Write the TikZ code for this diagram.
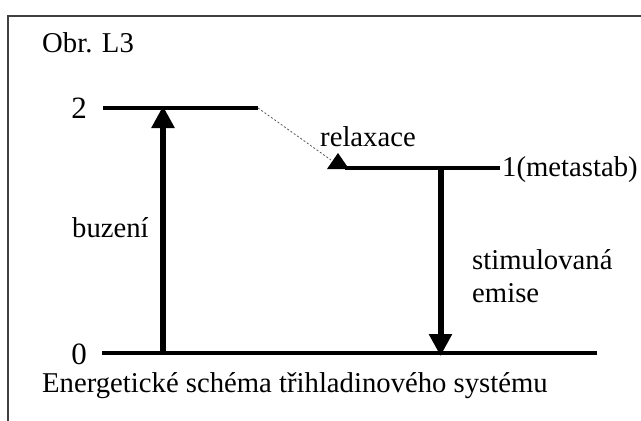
\documentclass[tikz,border=0pt]{standalone}
\usepackage{fontspec}
\setmainfont{Liberation Serif}
\usetikzlibrary{arrows.meta}
\begin{document}
\begin{tikzpicture}[x=1pt,y=-1pt,
  lbl/.style={inner sep=0pt,font=\fontsize{28.7}{34}\selectfont},
  num/.style={inner sep=0pt,font=\fontsize{31}{36}\selectfont},
  level/.style={line width=3.5pt},
  trans/.style={line width=6pt,-{Triangle[width=22pt,length=22pt]}},
  relax/.style={line width=0.8pt,gray!70!black,dash pattern=on 2pt off 2pt}]
\useasboundingbox (0,0) rectangle (641,421);
\fill[white] (0,0) rectangle (641,421);
% frame
\draw[line width=1.5pt,black!75] (8,430) -- (8,16) -- (650,16);
% texts
\node[lbl,anchor=base west] (obr) at (42,52) {Obr. L3};
\node[num,anchor=east] (n2) at (87,108.5) {2};
\node[num,anchor=east] (n0) at (87,354) {0};
\node[lbl,anchor=west] (n1) at (502,170) {1(metastab)};
\node[lbl] (relax) at (368,137) {relaxace};
\node[lbl,anchor=base west] (buz) at (72,237) {buzení};
\node[lbl,anchor=base west] (stim) at (472,269) {stimulovaná};
\node[lbl,anchor=base west] (emise) at (472,302) {emise};
\node[lbl,anchor=base west] (cap) at (42,392) {Energetické schéma třihladinového systému};
% levels
\coordinate (l2a) at (103,108);
\coordinate (l2b) at (258,108);
\coordinate (l1a) at (345,168);
\coordinate (l1b) at (500,168);
\coordinate (l0a) at (102,353);
\coordinate (l0b) at (597,353);
\draw[level] (l2a) -- (l2b);
\draw[level] (l1a) -- (l1b);
\draw[level] (l0a) -- (l0b);
% relaxation
\coordinate (rtip) at (338,153);
\fill (rtip) -- (349,169) -- (327,169) -- cycle;
\draw[relax] (l2b) -- (331,160);
% transitions
\coordinate (up0) at (163,353);
\coordinate (up2) at (163,106);
\coordinate (dn1) at (440.5,168);
\coordinate (dn0) at (440.5,356);
\draw[trans] (up0) -- (up2);
\draw[trans] (dn1) -- (dn0);
\end{tikzpicture}
\end{document}
